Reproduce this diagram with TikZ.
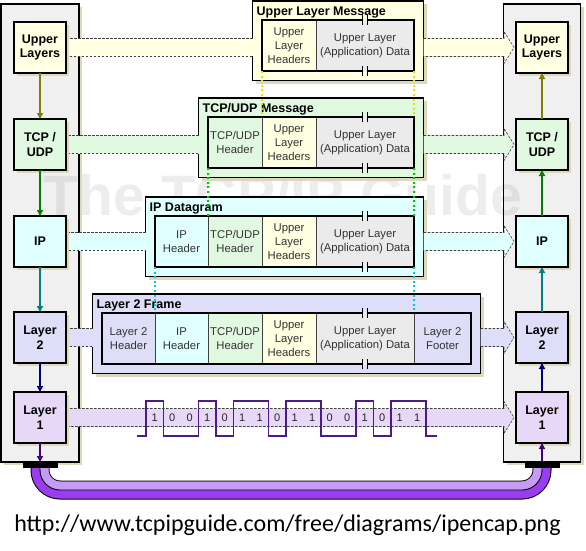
\documentclass[tikz,border=0pt]{standalone}
\usepackage{fontspec}
\setmainfont{Liberation Sans}
\newfontfamily\captionfont{Carlito}
\usetikzlibrary{arrows.meta,positioning,calc,fit,shadows}

\definecolor{panelgray}{HTML}{F0F0F0}
\definecolor{shadowtan}{HTML}{DCD8BC}
\definecolor{ulfill}{HTML}{FFFFE1}
\definecolor{tcpfill}{HTML}{E1F9E1}
\definecolor{ipfill}{HTML}{E0FFFF}
\definecolor{ltwofill}{HTML}{DEDEF9}
\definecolor{lonefill}{HTML}{E8D8F8}
\definecolor{datafill}{HTML}{EBEBEB}
\definecolor{wirepurple}{HTML}{4B1A8C}
\definecolor{cablelight}{HTML}{C79AF6}
\definecolor{cabledark}{HTML}{9A3CF0}
\definecolor{olivec}{HTML}{808000}
\definecolor{greenc}{HTML}{008000}
\definecolor{tealc}{HTML}{008080}
\definecolor{navyc}{HTML}{000080}
\definecolor{indigoc}{HTML}{400080}
\definecolor{yellowdot}{HTML}{E4E400}
\definecolor{greendot}{HTML}{00C800}
\definecolor{cyandot}{HTML}{00CCDD}

\pgfdeclarelayer{back}
\pgfdeclarelayer{mid}
\pgfsetlayers{back,mid,main}

% band from a left layer box to a frame
\newcommand{\bandleft}[3]{%
  \fill[#3] ($(#1.east)+(0,-9)$) rectangle ($(#2.west |- #1.east)+(0,9)$);
  \draw[banddash] ($(#2.west |- #1.east)+(0,-9)$) -- ($(#1.east)+(0,-9)$)
    -- ($(#1.east)+(0,9)$) -- ($(#2.west |- #1.east)+(0,9)$);
}
% band with head, into a right layer box
\newcommand{\bandright}[3]{%
  \path[fill=#3, banddash]
    ($(#1.east |- #2.west)+(0,-9)$) -- ($(#2.west)+(-12,-9)$) -- ($(#2.west)+(-12,-16)$)
    -- ($(#2.west)+(-2,0)$) -- ($(#2.west)+(-12,16)$) -- ($(#2.west)+(-12,9)$)
    -- ($(#1.east |- #2.west)+(0,9)$);
}
% break marks on the data cell
\newcommand{\databreak}[1]{%
  \foreach \bside in {north,south} {
    \fill[datafill] ($(#1.\bside)+(-2.5,-1.2)$) rectangle ($(#1.\bside)+(2.5,1.2)$);
    \draw[line width=1.4pt] ($(#1.\bside)+(-2.5,-5)$) -- ($(#1.\bside)+(-2.5,5)$)
      ($(#1.\bside)+(2.5,-5)$) -- ($(#1.\bside)+(2.5,5)$);
  }
}

\begin{document}
\begin{tikzpicture}[x=1pt, y=-1pt,
    shadowed/.style={drop shadow={shadow xshift=3pt, shadow yshift=-3pt, fill=shadowtan, opacity=1}},
    stackpanel/.style={draw, line width=1.2pt, fill=panelgray, shadowed, minimum width=78pt, minimum height=458pt, outer sep=0pt},
    layerbox/.style={draw, line width=1.4pt, shadowed, minimum width=52pt, minimum height=51pt, inner sep=0pt, outer sep=0pt, align=center, font=\bfseries\fontsize{12.5}{14.5}\selectfont},
    cell/.style={draw=black!75, line width=0.6pt, minimum height=51pt, inner sep=0pt, outer sep=0pt, align=center, font=\fontsize{11.3}{14}\selectfont, text=black!80},
    datacell/.style={cell, fill=datafill, minimum width=98pt},
    pktbox/.style={draw, line width=1.5pt, inner sep=0pt, outer sep=0pt},
    pktframe/.style={draw, line width=1.2pt, inner sep=9.5pt, outer sep=0pt, shadowed},
    frametitle/.style={anchor=base west, inner sep=0pt, font=\bfseries\fontsize{12.5}{14}\selectfont},
    banddash/.style={draw=black!75, line width=0.6pt, dash pattern=on 2.5pt off 1.5pt},
    encap/.style={line width=2pt, dash pattern=on 2pt off 2.6pt},
    arr/.style={-{Triangle[length=6pt, width=6pt]}, line width=1.3pt},
    bitlabel/.style={inner sep=0pt, font=\fontsize{11}{13}\selectfont, text=black!85},
    plug/.style={fill=black, minimum width=35pt, minimum height=6pt, inner sep=0pt, outer sep=0pt}
]
\useasboundingbox (0,0) rectangle (586,551);

% the two stacks
\begin{pgfonlayer}{back}
\node[stackpanel] (lStack) at (40,233) {};
\node[stackpanel, minimum width=77pt] (rStack) at (542,233) {};
\end{pgfonlayer}

\node[layerbox, fill=ulfill] (lUpper) at (40,47.5) {Upper\\Layers};
\node[layerbox, fill=tcpfill, below=46pt of lUpper] (lTcp) {TCP /\\UDP};
\node[layerbox, fill=ipfill, below=46pt of lTcp] (lIp) {IP};
\node[layerbox, fill=ltwofill, below=45pt of lIp] (lLtwo) {Layer\\2};
\node[layerbox, fill=lonefill, below=29pt of lLtwo] (lLone) {Layer\\1};

\node[layerbox, fill=ulfill] (rUpper) at (lUpper -| rStack) {Upper\\Layers};
\node[layerbox, fill=tcpfill] (rTcp) at (lTcp -| rStack) {TCP /\\UDP};
\node[layerbox, fill=ipfill] (rIp) at (lIp -| rStack) {IP};
\node[layerbox, fill=ltwofill] (rLtwo) at (lLtwo -| rStack) {Layer\\2};
\node[layerbox, fill=lonefill] (rLone) at (lLone -| rStack) {Layer\\1};

% upper layer message
\node[cell, fill=ulfill, minimum width=54pt] (ulmUlh) at (289,45.5) {Upper\\Layer\\Headers};
\node[datacell, right=0pt of ulmUlh] (ulmData) {Upper Layer\\(Application) Data};
\node[pktbox, fit=(ulmUlh)(ulmData)] (ulmBox) {};

% tcp/udp message
\node[cell, fill=tcpfill, minimum width=54pt] (tcpHdr) at (235,142.5) {TCP/UDP\\Header};
\node[cell, fill=ulfill, minimum width=54pt, right=0pt of tcpHdr] (tcpUlh) {Upper\\Layer\\Headers};
\node[datacell, right=0pt of tcpUlh] (tcpData) {Upper Layer\\(Application) Data};
\node[pktbox, fit=(tcpHdr)(tcpData)] (tcpBox) {};

% ip datagram
\node[cell, fill=ipfill, minimum width=53pt] (ipHdr) at (181.5,241.5) {IP\\Header};
\node[cell, fill=tcpfill, minimum width=54pt, right=0pt of ipHdr] (ipTcp) {TCP/UDP\\Header};
\node[cell, fill=ulfill, minimum width=54pt, right=0pt of ipTcp] (ipUlh) {Upper\\Layer\\Headers};
\node[datacell, right=0pt of ipUlh] (ipData) {Upper Layer\\(Application) Data};
\node[pktbox, fit=(ipHdr)(ipData)] (ipBox) {};

% layer 2 frame
\node[cell, fill=ltwofill, minimum width=53pt] (ltwoHdr) at (128.5,338.5) {Layer 2\\Header};
\node[cell, fill=ipfill, minimum width=53pt, right=0pt of ltwoHdr] (ltwoIp) {IP\\Header};
\node[cell, fill=tcpfill, minimum width=54pt, right=0pt of ltwoIp] (ltwoTcp) {TCP/UDP\\Header};
\node[cell, fill=ulfill, minimum width=54pt, right=0pt of ltwoTcp] (ltwoUlh) {Upper\\Layer\\Headers};
\node[datacell, right=0pt of ltwoUlh] (ltwoData) {Upper Layer\\(Application) Data};
\node[cell, fill=ltwofill, minimum width=57pt, right=0pt of ltwoData] (ltwoFtr) {Layer 2\\Footer};
\node[pktbox, fit=(ltwoHdr)(ltwoFtr)] (ltwoBox) {};

\databreak{ulmData}
\databreak{tcpData}
\databreak{ipData}
\databreak{ltwoData}

% room for the titles
\coordinate (ulmTop) at ($(ulmBox.north)+(0,-9.5)$);
\coordinate (tcpTop) at ($(tcpBox.north)+(0,-9.5)$);
\coordinate (ipTop) at ($(ipBox.north)+(0,-9.5)$);
\coordinate (ltwoTop) at ($(ltwoBox.north)+(0,-9.5)$);

\begin{pgfonlayer}{mid}
\node[font=\bfseries\fontsize{57}{60}\selectfont, text=black, opacity=0.07, anchor=base] (mark) at (283,215) {The TCP/IP Guide};
\node[pktframe, fill=ulfill, fit=(ulmBox)(ulmTop)] (ulmFrame) {};
\node[pktframe, fill=tcpfill, fit=(tcpBox)(tcpTop)] (tcpFrame) {};
\node[pktframe, fill=ipfill, fit=(ipBox)(ipTop)] (ipFrame) {};
\node[pktframe, fill=ltwofill, fit=(ltwoBox)(ltwoTop)] (ltwoFrame) {};
% bands between the stacks
\bandleft{lUpper}{ulmFrame}{ulfill}
\bandright{ulmFrame}{rUpper}{ulfill}
\bandleft{lTcp}{tcpFrame}{tcpfill}
\bandright{tcpFrame}{rTcp}{tcpfill}
\bandleft{lIp}{ipFrame}{ipfill}
\bandright{ipFrame}{rIp}{ipfill}
\bandleft{lLtwo}{ltwoFrame}{ltwofill}
\bandright{ltwoFrame}{rLtwo}{ltwofill}
\bandright{lLone}{rLone}{lonefill}
\end{pgfonlayer}

\node[frametitle] (ulmTitle) at ([xshift=4pt, yshift=-14.5pt]ulmFrame.north west) {Upper Layer Message};
\node[frametitle] (tcpTitle) at ([xshift=4pt, yshift=-14.5pt]tcpFrame.north west) {TCP/UDP Message};
\node[frametitle] (ipTitle) at ([xshift=4pt, yshift=-14.5pt]ipFrame.north west) {IP Datagram};
\node[frametitle] (ltwoTitle) at ([xshift=4pt, yshift=-14.5pt]ltwoFrame.north west) {Layer 2 Frame};

% encapsulation
\draw[encap, draw=yellowdot] (ulmBox.south west) -- (tcpUlh.north west);
\draw[encap, draw=yellowdot] (ulmBox.south east) -- (tcpData.north east);
\draw[encap, draw=greendot] (tcpBox.south west) -- (ipTcp.north west);
\draw[encap, draw=greendot] (tcpBox.south east) -- (ipData.north east);
\draw[encap, draw=cyandot] (ipBox.south west) -- (ltwoIp.north west);
\draw[encap, draw=cyandot] (ipBox.south east) -- (ltwoData.north east);

% bits on the wire
\def\bitseq{1,0,0,1,0,1,1,0,1,1,0,0,1,0,1,1}
\draw[wirepurple, line width=1.5pt] (137,436) -- (146,436)
  \foreach \b [count=\i from 0] in \bitseq { -- ({146+17.5*\i},{436-35*\b}) -- ({163.5+17.5*\i},{436-35*\b}) }
  -- (426,436) -- (437,436);
\foreach \b [count=\i from 0] in \bitseq
  \node[bitlabel] (bit\i) at ({154.75+17.5*\i},418) {\b};

% cable
\node[plug] (lPlug) at (40,465) {};
\node[plug] (rPlug) at (lPlug -| rLone) {};
\coordinate (cableLow) at (290,490);
\begin{pgfonlayer}{back}
\draw[line width=19pt, black, rounded corners=20pt] (lPlug.south) |- (cableLow) -| (rPlug.south);
\draw[line width=17pt, cabledark, rounded corners=20pt] (lPlug.south) |- (cableLow) -| (rPlug.south);
\draw[line width=8.5pt, cablelight, rounded corners=15.75pt] ([xshift=4.25pt]lPlug.south) |- ([yshift=4.25pt]cableLow) -| ([xshift=-4.25pt]rPlug.south);
\draw[line width=0.9pt, black, rounded corners=20pt] (lPlug.south) |- (cableLow) -| (rPlug.south);
\end{pgfonlayer}

% down the sending stack, up the receiving one
\draw[arr, draw=olivec] (lUpper) -- (lTcp);
\draw[arr, draw=greenc] (lTcp) -- (lIp);
\draw[arr, draw=tealc] (lIp) -- (lLtwo);
\draw[arr, draw=navyc] (lLtwo) -- (lLone);
\draw[arr, draw=indigoc] (lLone) -- (lPlug);
\draw[arr, draw=indigoc] (rPlug) -- (rLone);
\draw[arr, draw=navyc] (rLone) -- (rLtwo);
\draw[arr, draw=tealc] (rLtwo) -- (rIp);
\draw[arr, draw=greenc] (rIp) -- (rTcp);
\draw[arr, draw=olivec] (rTcp) -- (rUpper);

\node[font=\captionfont\fontsize{24}{28}\selectfont, anchor=base] (srcUrl) at (287.5,531) {http://www.tcpipguide.com/free/diagrams/ipencap.png};
\end{tikzpicture}
\end{document}
